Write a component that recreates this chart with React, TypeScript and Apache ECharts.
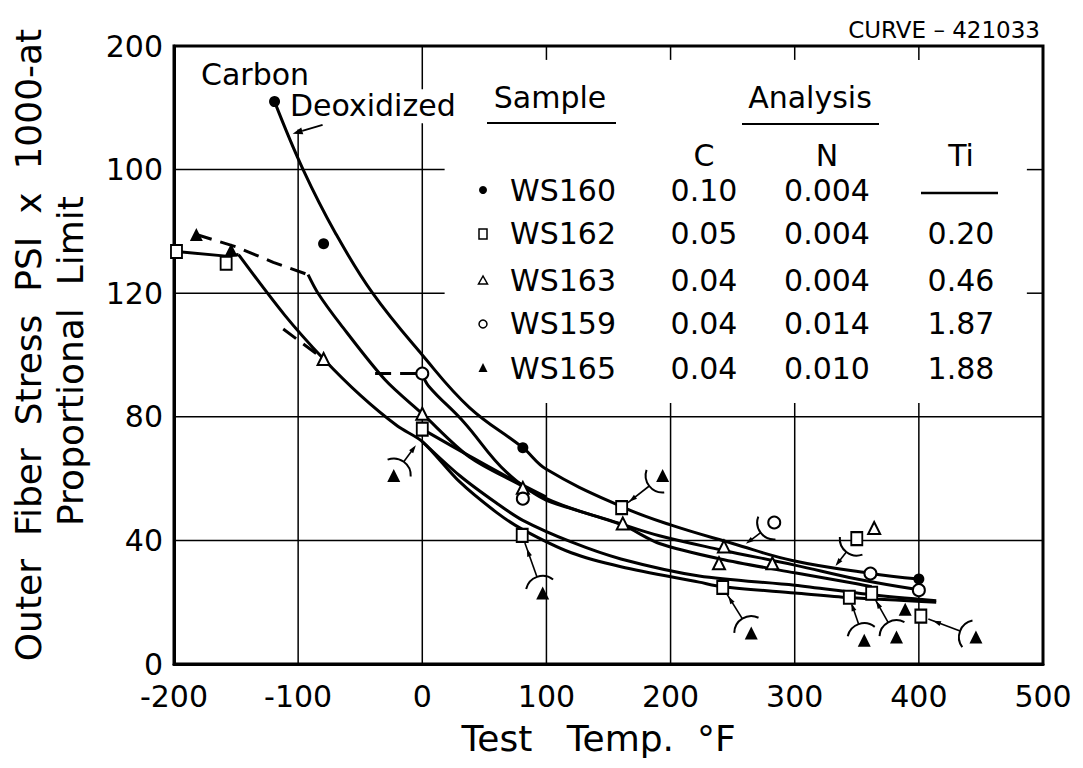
import React, { useEffect, useRef } from "react";
import * as echarts from "echarts";

// ---- axis ----
const xMin = -200, xMax = 500, xStep = 100;
const yMin = 0, yMax = 200, yStep = 40;
const yTickLabels = ["0", "40", "80", "120", "100", "200"];

// grid rules (interrupted by the key and the labels, as in the original sheet)
const gridSegments = [
  [-100,0,-100,173],
  [0,0,0,175],[0,186,0,200],
  [100,0,100,84.5],[100,195.5,100,200],
  [200,0,200,84.5],[200,195.5,200,200],
  [300,0,300,84.5],[300,195.5,300,200],
  [400,0,400,84.5],[400,195.5,400,200],
  [-200,40,500,40],[-200,80,500,80],
  [-200,120,18,120],[487,120,500,120],
  [-200,160,18,160],[487,160,500,160],
];

// ---- curves (x = Test temp °F, y = stress ksi) ----
const curveWS160 = [[-119,182],[-96,160],[-70,139.5],[-40,120],[0,100],[38,83],[81,70],[100,63],[160,51],[200,45],[250,39],[298,33.5],[360,29.4],[400,27.5]];
const curveWS159Dash = [[-38,94],[0,94]];
const curveWS159 = [[0,94],[5,90],[33,78.5],[68,62],[100,53.5],[159,45.5],[191,41.5],[240,37],[300,32],[350,27.5],[400,24]];
const curveWS162Short = [[0,76],[35,68],[71,60],[100,54]];
const curveBentDash = [[-182,139],[-150,135],[-120,130],[-92,126]];
const curveBent = [[-92,126],[-84,120],[-66,110],[-30,92],[0,81],[38,67],[81,57.5],[100,53],[161,45],[191,39],[240,34],[300,29.5],[350,26],[362,25]];
const curveSquaresLeft = [[-198,133.5],[-158,132],[-148,132.5]];
const curveSquares = [[-148,132.5],[-111,113],[-79.5,98.7],[-50,87],[-20,77],[0,72],[30,59],[60,49],[81,43.5],[120,36],[160,31.5],[223,26.5],[242,25],[300,23],[344,21.5],[414,20]];
const curveLower = [[0,72],[30,61],[60,52],[81,46.5],[120,39.5],[160,34],[223,28.5],[300,25.5],[360,22.5],[414,20.5]];
const curveShortDash = [[-112,108.4],[-79.5,98.7]];

// ---- measured points ----
const ptsWS160 = [[-119,182],[-79.5,136],[81,70],[400,27.5]];
const ptsWS162 = [[-198,133.5],[-158,129.7],[0,76],[80.5,41.6],[160.6,50.6],[242,24.8],[344,21.6],[350,40.6],[401.6,15.5],[362,22.9]];
const ptsWS163 = [[-79.5,98.7],[0,81],[81,57],[161.5,45.5],[239,32.6],[243,38],[282,32.6],[364,44]];
const ptsWS159 = [[0,94],[81,53.5],[283.5,45.8],[361,29.3],[400,23.9]];
const ptsWS165 = [[-182,139],[-154,134],[-23,61],[97,23],[193.6,61],[265,10],[356,7.7],[382,8.7],[446,8.7],[389,17.7]];

// callouts: [markerX, markerY, sourceX, sourceY]
const callouts = [
  [-23,61,-3,72],[97,23,80.5,41.6],[193.6,61,160.6,50.6],[265,10,242,24.8],
  [356,7.7,344,21.6],[382,8.7,362,22.9],[446,8.7,401.6,15.5],
  [283.5,45.8,259,38.4],[350,40.6,332,31.3],
];
// arrow: [fromX, fromY, toX, toY]
const arrows = [[-80.3,174.5,-104.4,171.6]];

// ---- table ----
const tableRows = [
  ["WS160","0.10","0.004",""],
  ["WS162","0.05","0.004","0.20"],
  ["WS163","0.04","0.004","0.46"],
  ["WS159","0.04","0.014","1.87"],
  ["WS165","0.04","0.010","1.88"],
];
const tableRowY = [190, 233, 280, 323, 368];

const FONT = "DejaVu Sans";
const BLACK = "#000";

function lineSeries(data: number[][], opts: any = {}) {
  return {
    type: "line", data, symbol: "none", smooth: opts.smooth ?? 0.4, z: 3,
    lineStyle: { color: BLACK, width: opts.width ?? 3, type: opts.dash ? [16, 9] : "solid" },
    silent: true,
  };
}

export default function App() {
  const ref = useRef<HTMLDivElement>(null);
  useEffect(() => {
    const chart = echarts.init(ref.current!, null, { renderer: "svg" });
    const txt = (text: string, x: number, y: number, size: number, align = "center", extra: any = {}) => ({
      type: "text", x, y, z: 20, ...extra,
      style: { text, fill: BLACK, fontSize: size, fontFamily: FONT, textAlign: align, textVerticalAlign: "middle" },
    });
    const graphics: any[] = [
      txt("CURVE – 421033", 1040, 30, 23, "right"),
      txt("Carbon", 255, 74, 30),
      txt("Deoxidized", 290, 105, 30, "left"),
      txt("Outer  Fiber  Stress  PSI  x  1000-at", 28, 345, 36, "center", { rotation: Math.PI / 2 }),
      txt("Proportional  Limit", 70, 361, 36, "center", { rotation: Math.PI / 2 }),
      txt("Sample", 550, 97, 30),
      txt("Analysis", 810, 97, 30),
      { type: "line", z: 20, shape: { x1: 487, y1: 123, x2: 616, y2: 123 }, style: { stroke: BLACK, lineWidth: 2 } },
      { type: "line", z: 20, shape: { x1: 742, y1: 124, x2: 879, y2: 124 }, style: { stroke: BLACK, lineWidth: 2 } },
      txt("C", 704, 155, 30), txt("N", 827, 155, 30), txt("Ti", 961, 155, 30),
      { type: "line", z: 20, shape: { x1: 921, y1: 193, x2: 998, y2: 193 }, style: { stroke: BLACK, lineWidth: 2.5 } },
      { type: "circle", z: 20, shape: { cx: 483, cy: tableRowY[0], r: 4 }, style: { fill: BLACK } },
      { type: "rect", z: 20, shape: { x: 479, y: tableRowY[1] - 4, width: 8, height: 10 }, style: { fill: "#fff", stroke: BLACK, lineWidth: 1.5 } },
      { type: "polygon", z: 20, shape: { points: [[483, tableRowY[2] - 4], [478.5, tableRowY[2] + 4], [487.5, tableRowY[2] + 4]] }, style: { fill: "#fff", stroke: BLACK, lineWidth: 1.5 } },
      { type: "circle", z: 20, shape: { cx: 483, cy: tableRowY[3] + 1, r: 4 }, style: { fill: "#fff", stroke: BLACK, lineWidth: 1.5 } },
      { type: "polygon", z: 20, shape: { points: [[483, tableRowY[4] - 5], [478.5, tableRowY[4] + 4], [487.5, tableRowY[4] + 4]] }, style: { fill: BLACK } },
    ];
    tableRows.forEach((r, i) => {
      const y = tableRowY[i];
      graphics.push(txt(r[0], 510, y, 30, "left"));
      graphics.push(txt(r[1], 704, y, 30));
      graphics.push(txt(r[2], 827, y, 30));
      if (r[3]) graphics.push(txt(r[3], 961, y, 30));
    });

    const gridRender = (params: any, api: any) => {
      const a = api.coord([api.value(0), api.value(1)]);
      const b = api.coord([api.value(2), api.value(3)]);
      return { type: "line", shape: { x1: a[0], y1: a[1], x2: b[0], y2: b[1] }, style: { stroke: BLACK, lineWidth: 1.5 } };
    };
    const calloutRender = (params: any, api: any) => {
      const c = api.coord([api.value(0), api.value(1)]);
      const s = api.coord([api.value(2), api.value(3)]);
      const r = 17;
      const ang = Math.atan2(s[1] - c[1], s[0] - c[0]);
      const ex = c[0] + r * Math.cos(ang), ey = c[1] + r * Math.sin(ang);
      const len = Math.hypot(s[0] - ex, s[1] - ey);
      const ux = (s[0] - ex) / len, uy = (s[1] - ey) / len;
      const sx = s[0] - ux * 8, sy = s[1] - uy * 8;
      const mx = ex + ux * len * 0.5, my = ey + uy * len * 0.5;
      const px = -uy, py = ux;
      return {
        type: "group",
        children: [
          { type: "arc", shape: { cx: c[0], cy: c[1], r, startAngle: ang - 1.0, endAngle: ang + 1.0 }, style: { stroke: BLACK, fill: null, lineWidth: 2 } },
          { type: "line", shape: { x1: ex, y1: ey, x2: sx, y2: sy }, style: { stroke: BLACK, lineWidth: 1.6 } },
          { type: "polygon", shape: { points: [[mx + ux * 8, my + uy * 8], [mx + px * 2.5, my + py * 2.5], [mx - px * 2.5, my - py * 2.5]] }, style: { fill: BLACK } },
        ],
      };
    };
    const arrowRender = (params: any, api: any) => {
      const a = api.coord([api.value(0), api.value(1)]);
      const b = api.coord([api.value(2), api.value(3)]);
      const len = Math.hypot(b[0] - a[0], b[1] - a[1]);
      const ux = (b[0] - a[0]) / len, uy = (b[1] - a[1]) / len;
      const px = -uy, py = ux;
      const bx = b[0] - ux * 10, by = b[1] - uy * 10;
      return {
        type: "group",
        children: [
          { type: "line", shape: { x1: a[0], y1: a[1], x2: bx, y2: by }, style: { stroke: BLACK, lineWidth: 1.8 } },
          { type: "polygon", shape: { points: [[b[0], b[1]], [bx + px * 3.5, by + py * 3.5], [bx - px * 3.5, by - py * 3.5]] }, style: { fill: BLACK } },
        ],
      };
    };

    const scatter = (data: number[][], symbol: string, size: any, fill: string) => ({
      type: "scatter", data, symbol, symbolSize: size, z: 5, silent: true,
      itemStyle: { color: fill, borderColor: BLACK, borderWidth: fill === BLACK ? 0 : 2, opacity: 1 },
    });

    chart.setOption({
      animation: false,
      backgroundColor: "#fff",
      grid: { left: 174, right: 40, top: 46, bottom: 104, show: true, borderColor: BLACK, borderWidth: 3 },
      xAxis: {
        type: "value", min: xMin, max: xMax, interval: xStep,
        axisLine: { show: true, onZero: false, lineStyle: { color: BLACK, width: 3 } },
        axisTick: { show: false },
        axisLabel: { color: BLACK, fontSize: 30, lineHeight: 26, fontFamily: FONT, margin: 19 },
        splitLine: { show: false },
        name: "Test   Temp.  °F", nameLocation: "middle", nameGap: 56,
        nameTextStyle: { color: BLACK, fontSize: 36, fontFamily: FONT, padding: [0, 20, 0, 0] },
      },
      yAxis: {
        type: "value", min: yMin, max: yMax, interval: yStep,
        axisLine: { show: true, onZero: false, lineStyle: { color: BLACK, width: 3 } },
        axisTick: { show: false },
        axisLabel: { color: BLACK, fontSize: 30, lineHeight: 24, fontFamily: FONT, margin: 11, formatter: (v: number) => yTickLabels[Math.round((v - yMin) / yStep)] },
        splitLine: { show: false },
      },
      graphic: graphics,
      series: [
        { type: "custom", data: gridSegments, renderItem: gridRender, encode: { x: [0, 2], y: [1, 3] }, z: 1, silent: true },
        lineSeries(curveWS160),
        lineSeries(curveWS159Dash, { dash: true, smooth: false }),
        lineSeries(curveWS159),
        lineSeries(curveWS162Short),
        lineSeries(curveBentDash, { dash: true, smooth: false }),
        lineSeries(curveBent, { smooth: 0.3 }),
        lineSeries(curveSquaresLeft, { smooth: false }),
        lineSeries(curveSquares, { smooth: 0.3 }),
        lineSeries(curveLower, { smooth: 0.3 }),
        lineSeries(curveShortDash, { dash: true, smooth: false }),
        scatter(ptsWS160, "circle", 11, BLACK),
        scatter(ptsWS162, "rect", [11, 13], "#fff"),
        scatter(ptsWS163, "triangle", 12, "#fff"),
        scatter(ptsWS159, "circle", 12, "#fff"),
        scatter(ptsWS165, "triangle", 13, BLACK),
        { type: "custom", data: callouts, renderItem: calloutRender, encode: { x: [0, 2], y: [1, 3] }, z: 4, silent: true },
        { type: "custom", data: arrows, renderItem: arrowRender, encode: { x: [0, 2], y: [1, 3] }, z: 4, silent: true },
      ],
    });
    return () => chart.dispose();
  }, []);
  return <div ref={ref} style={{ position: "fixed", left: 0, top: 0, width: 1083, height: 768, background: "#fff" }} />;
}
